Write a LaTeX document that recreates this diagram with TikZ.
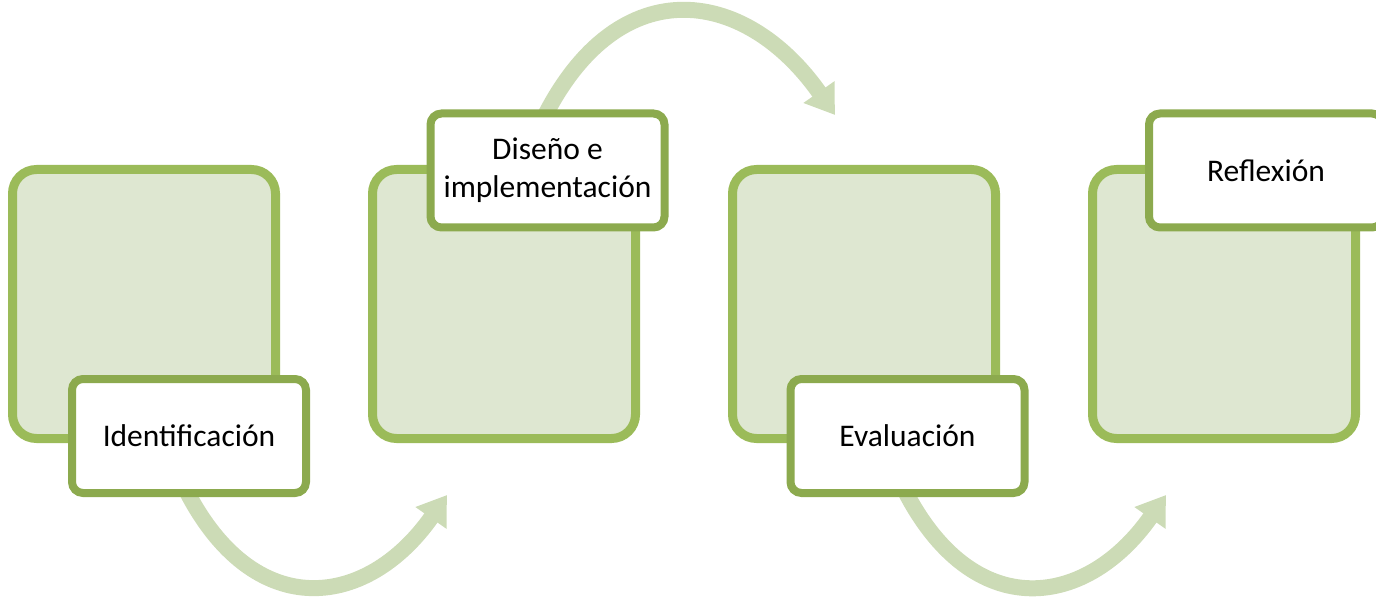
\documentclass[tikz,border=0pt]{standalone}
\usepackage{fontspec}
\setmainfont{Carlito}
\usetikzlibrary{arrows.meta,backgrounds}
\definecolor{olivegreen}{HTML}{9BBB59}
\definecolor{olivedark}{HTML}{8CAA4E}
\definecolor{olivepale}{HTML}{DEE7D1}
\definecolor{olivearrow}{HTML}{CCDBB6}

\begin{document}
\begin{tikzpicture}[x = 1pt, y = 1pt,
  stage/.style = {draw = olivegreen, fill = olivepale, line width = 9pt, rounded corners = 24pt, minimum width = 263pt, minimum height = 269pt},
  tag/.style = {draw = olivedark, fill = white, line width = 8pt, rounded corners = 11pt, minimum width = 234pt, minimum height = 114pt, align = center, font = \fontsize{31.5}{38}\selectfont},
  flow/.style = {draw = olivearrow, line width = 16pt, -{Triangle[length = 28pt, width = 36pt]}, shorten <= -20pt, looseness = 1.4}]
\useasboundingbox (0,0) rectangle (1376,598);
\clip (0,0) rectangle (1376,598);
\node[stage] (box1) at (144,294) {};
\node[stage] (box2) at (504,294) {};
\node[stage] (box3) at (864,294) {};
\node[stage] (box4) at (1224,294) {};
\node[tag] (tag1) at (189,162) {Identificación};
\node[tag] (tag2) at (547.5,427.5) {Diseño e\\implementación};
\node[tag] (tag3) at (907.5,162) {Evaluación};
\node[tag] (tag4) at (1266,427.5) {Reflexión};
\coordinate (tip1) at (447,103);
\coordinate (tip2) at (835,483);
\coordinate (tip3) at (1166,103);
\begin{scope}[on background layer]
\draw[flow] (tag1.south) to[out = -65, in = -125] (tip1);
\draw[flow] (tag2.north) to[out = 65, in = 125] (tip2);
\draw[flow] (tag3.south) to[out = -65, in = -125] (tip3);
\end{scope}
\end{tikzpicture}
\end{document}
